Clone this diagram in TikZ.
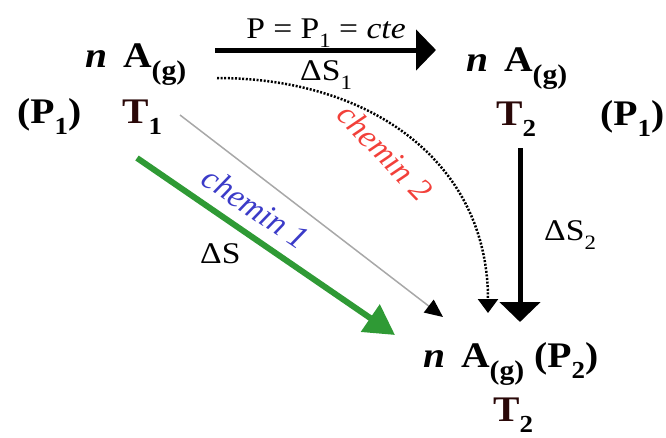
\documentclass[tikz,border=0pt]{standalone}
\usepackage{fontspec}
\setmainfont{Liberation Serif}
\usepackage{graphicx}
\usepackage{tikz}
\usetikzlibrary{arrows.meta, calc}
\definecolor{RouteBlue} {HTML}{3B3BC8}
\definecolor{RouteRed}  {HTML}{F2403A}
\definecolor{RouteGreen}{HTML}{2F9A35}
\definecolor{LineGrey}  {HTML}{A8A8A8}
\definecolor{TDark}     {HTML}{2A0808}
\newcommand{\lowsub}[1]{\raisebox{-0.32em}{\scalebox{0.68}{#1}}}
\newcommand{\phase}[1]{\raisebox{-0.36em}{\scalebox{0.75}{#1}}}
\newcommand{\Tsym}{{\color{TDark}T}}
\newcommand{\nA}{\textit{n}\hspace{0.4em}A\phase{(g)}}

\begin{document}
\begin{tikzpicture}[x=1pt, y=-1pt,
  state/.style={font=\fontsize{36}{40}\selectfont\bfseries, inner sep=0pt,
                xscale=1.1, transform shape},
  lbl/.style={font=\fontsize{30}{34}\selectfont, inner sep=0pt,
              xscale=1.12, transform shape},
  route/.style={font=\fontsize{33}{36}\selectfont\itshape, inner sep=0pt},
  heavy/.style={line width=5pt, -{Triangle[width=40pt, length=20pt]}}]
  \useasboundingbox (0,0) rectangle (666,437);
  % States
  \node[state, anchor=base west] (A1) at (85,67) {\nA};
  \node[state, anchor=base west] (T1) at (122,123) {\Tsym\lowsub{1}};
  \node[state, anchor=base west] (P1l) at (17,123) {(P\lowsub{1})};
  \node[state, anchor=base west] (A2) at (466,71) {\nA};
  \node[state, anchor=base west] (T2) at (496,125) {\Tsym\lowsub{2}};
  \node[state, anchor=base west] (P1r) at (600,125) {(P\lowsub{1})};
  \node[state, anchor=base west] (A3) at (423,367) {\nA\ (P\lowsub{2})};
  \node[state, anchor=base west] (T3) at (493,421) {\Tsym\lowsub{2}};
  % Transformations
  \draw[heavy] ($(A1.base west)+(130,-17)$) -- ($(A2.base west)+(-30,-21)$);
  \draw[heavy] ($(T2.base west)+(24,23)$) -- ($(A3.base west)+(97,-45)$);
  \draw[line width=2.5pt, dash pattern=on 2pt off 1.6pt,
        -{Triangle[width=20pt, length=14pt]}]
    ($(A1.base west)+(132,11)$) .. controls +(155,0) and +(0,-150) ..
    ($(A3.base west)+(65,-54)$);
  \draw[LineGrey, line width=1.5pt, -{Triangle[width=16pt, length=18pt, color=black]}]
    ($(T1.base west)+(58,-8)$) -- ($(A3.base west)+(20,-50)$);
  \draw[RouteGreen, line width=6pt, -{Triangle[width=32pt, length=30pt]}]
    ($(T1.base west)+(15,35)$) -- ($(A3.base west)+(-28,-32)$);
  % Labels
  \node[lbl, anchor=base] (cond) at (326,38) {P = P\lowsub{1} = \textit{cte}};
  \node[lbl, anchor=base west] (dS1) at (300,80) {ΔS\lowsub{1}};
  \node[lbl, anchor=base west] (dS2) at (544,240) {ΔS\lowsub{2}};
  \node[lbl, anchor=base west] (dS) at (200,263) {ΔS};
  \node[route, text=RouteRed, rotate=-46] (r2) at (385,152) {chemin 2};
  \node[route, text=RouteBlue, rotate=-34] (r1) at (256,208) {chemin 1};
\end{tikzpicture}
\end{document}
